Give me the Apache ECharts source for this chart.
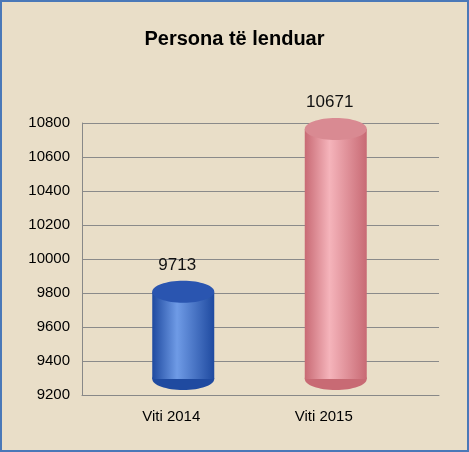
<!DOCTYPE html>
<html>
<head>
<meta charset="utf-8">
<script src="https://cdn.jsdelivr.net/npm/echarts@6/dist/echarts.min.js"></script>
<style>
html, body { margin: 0; padding: 0; }
#chart { width: 469px; height: 452px; }
</style>
</head>
<body>
<div id="chart"></div>
<script>
var categories = ['Viti 2014', 'Viti 2015'];
var values = [9713, 10671];
var yTicks = { min: 9200, max: 10800, step: 200 };
var colors = [
    ['#1f4aa0', '#6f9be6', '#2a55b0'],
    ['#c86a74', '#f5b4bb', '#d98a92']
];
var barShift = [12, -14];
var labelShift = [-14, -40];

var myChart = echarts.init(document.getElementById('chart'));

function cylinder(params, api) {
    var idx = api.value(0);
    var top = api.coord([idx, api.value(1)]);
    var base = api.coord([idx, yTicks.min]);
    var w = 62, ry = 11, dy = -16;
    var cx = top[0] + barShift[idx], x0 = cx - w / 2;
    var yTop = top[1] + dy, yBot = base[1] + dy;
    var c = colors[idx];
    var grad = new echarts.graphic.LinearGradient(0, 0, 1, 0, [
        { offset: 0, color: c[0] }, { offset: 0.4, color: c[1] }, { offset: 1, color: c[0] }
    ]);
    return {
        type: 'group',
        children: [
            { type: 'ellipse', shape: { cx: cx, cy: yBot, rx: w / 2, ry: ry }, style: { fill: c[0] } },
            { type: 'rect', shape: { x: x0, y: yTop, width: w, height: yBot - yTop }, style: { fill: grad } },
            { type: 'ellipse', shape: { cx: cx, cy: yTop, rx: w / 2, ry: ry }, style: { fill: c[2] } },
            {
                type: 'text',
                style: { text: String(api.value(1)), x: cx - 6, y: yTop - 18, align: 'center', verticalAlign: 'bottom',
                    font: '17px "Liberation Sans", Arial', fill: '#111' }
            },
            {
                type: 'text',
                style: { text: categories[idx], x: base[0] + labelShift[idx] + 14, y: base[1] + 14, align: 'center',
                    verticalAlign: 'top', font: '15px "Liberation Sans", Arial', fill: '#000' }
            }
        ]
    };
}

var option = {
    backgroundColor: '#e9dec8',
    title: {
        text: 'Persona të lenduar',
        left: 'center',
        top: 24,
        textStyle: { fontFamily: '"Liberation Sans", Arial', fontWeight: 'bold', fontSize: 20, color: '#000' }
    },
    grid: { left: 82, right: 30, top: 123, bottom: 57 },
    xAxis: {
        type: 'category',
        data: categories,
        axisLine: { lineStyle: { color: '#888' } },
        axisTick: { show: false },
        axisLabel: { show: false }
    },
    yAxis: {
        type: 'value',
        min: yTicks.min,
        max: yTicks.max,
        interval: yTicks.step,
        axisLine: { show: true, lineStyle: { color: '#888' } },
        axisLabel: { fontSize: 15, color: '#000', fontFamily: '"Liberation Sans", Arial', margin: 12,
            formatter: function (v) { return String(v); } },
        splitLine: { lineStyle: { color: '#8a8a8a' } }
    },
    series: [{
        type: 'custom',
        renderItem: cylinder,
        data: values.map(function (v, i) { return [i, v]; }),
        encode: { x: 0, y: 1 }
    }],
    graphic: [{
        type: 'rect',
        shape: { x: 1, y: 1, width: 467, height: 450 },
        style: { fill: 'none', stroke: '#4a78b8', lineWidth: 2 }
    }]
};

myChart.setOption(option);
</script>
</body>
</html>
